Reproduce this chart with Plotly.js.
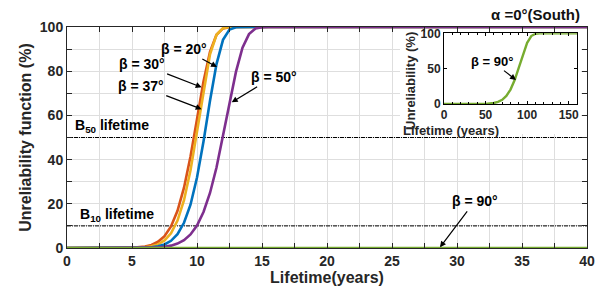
<!DOCTYPE html>
<html>
<head>
<meta charset="utf-8">
<script src="https://cdn.plot.ly/plotly-3.0.1.min.js"></script>
<style>html,body{margin:0;padding:0;background:#fff;}#chart{width:602px;height:290px;}</style>
</head>
<body>
<div id="chart"></div>
<script>
// ---- data ----
var lifetimeYears = [0,4,5,6,6.5,7,7.5,8,8.5,9,9.5,10,10.5,11,11.5,12,12.5,13,13.5,14,14.5,15,15.5,16,40];
var beta37 = [0,0.01,0.11,0.65,1.39,2.81,5.38,9.76,16.8,27.3,41.4,58.3,75.3,88.8,96.5,99.35,99.94,100,100,100,100,100,100,100,100];
var beta30 = [0,0,0.05,0.32,0.75,1.64,3.40,6.67,12.4,21.6,35.2,52.9,71.9,87.6,96.5,99.5,99.97,100,100,100,100,100,100,100,100];
var beta20 = [0,0,0.02,0.14,0.34,0.76,1.61,3.25,6.23,11.4,19.6,31.9,48.2,66.6,83.2,94.2,98.85,99.9,100,100,100,100,100,100,100];
var beta50 = [0,0,0.01,0.06,0.13,0.27,0.55,1.07,1.99,3.55,6.13,10.2,16.3,24.9,36.4,50.4,65.6,79.8,90.6,96.8,99.3,99.9,100,100,100];
var beta90Years = [0,40];
var beta90 = [0,0];
var insetYears = [0,40,50,60,65,70,75,80,85,90,95,100,105,110,115,120,160];
var insetBeta90 = [0,0.03,0.23,1.37,2.97,6.0,11.4,20.4,33.8,51.3,70.4,86.6,96.1,99.4,99.96,100,100];
var lifetimeLevels = [50,10];           // B50, B10
var levelNames = ['B<sub>50</sub> lifetime','B<sub>10</sub> lifetime'];
var betaNames = ['β = 37°','β = 30°','β = 20°','β = 50°','β = 90°'];
var xTickVals = [0,5,10,15,20,25,30,35,40];
var yTickVals = [0,20,40,60,80,100];
var insetXTicks = [0,50,100,150];
var insetYTicks = [0,50,100];

var colors = ['#D95319','#EDB120','#0072BD','#7E2F8E','#77AC30'];
var FONT = 'Liberation Sans, Arial, Helvetica, sans-serif';
var TXT = '#262626';

var traces = [];
lifetimeLevels.forEach(function(v){
  traces.push({x:[0,40], y:[v,v], mode:'lines', line:{color:'#000', width:1, dash:'4px,1px,1px,1px'}, showlegend:false, hoverinfo:'skip', cliponaxis:false});
});
[beta37, beta30, beta20, beta50].forEach(function(arr, i){
  traces.push({x:lifetimeYears, y:arr, mode:'lines', name:betaNames[i], line:{color:colors[i], width:2.6}, showlegend:false, cliponaxis:false});
});
traces.push({x:beta90Years, y:beta90, mode:'lines', name:betaNames[4], line:{color:colors[4], width:2.6}, showlegend:false, cliponaxis:false});
// white backing subplot for inset
traces.push({x:[], y:[], xaxis:'x2', yaxis:'y2', mode:'lines', showlegend:false, hoverinfo:'skip'});
// inset
traces.push({x:insetYears, y:insetBeta90, xaxis:'x3', yaxis:'y3', mode:'lines', name:betaNames[4], line:{color:colors[4], width:2.4}, showlegend:false, cliponaxis:false});

function tf(sz, col){ return {family:FONT, size:sz, color:col||TXT, weight:'bold'}; }

function label(xr, yr, x, y, ax, ay, txt, sz){
  return {xref:xr, yref:yr, x:x, y:y, ax:ax, ay:ay, text:txt, showarrow:true, arrowhead:2, arrowsize:1, arrowwidth:1.2,
          arrowcolor:'#000', standoff:0, startstandoff:1, font:tf(sz,'#000')};
}
var annotations = [];
annotations.push(label('x','y',11.54,81.9,-33,-18,betaNames[2],14));
annotations.push(label('x','y',10.36,72.7,-60,-23.3,betaNames[1],14));
annotations.push(label('x','y',10.36,62.8,-60.9,-23.3,betaNames[0],14));
annotations.push(label('x','y',12.67,65.9,41.8,-25.6,betaNames[3],14));
annotations.push(label('x','y',28.69,0.3,35,-46.3,betaNames[4],14));
annotations.push(label('x3','y3',86.6,33.9,-24.3,-19,betaNames[4],13));
annotations.push({xref:'x', yref:'y', x:0.48, y:55.2, xanchor:'left', text:levelNames[0], showarrow:false, font:tf(14,'#000')});
annotations.push({xref:'x', yref:'y', x:0.87, y:14.8, xanchor:'left', text:levelNames[1], showarrow:false, font:tf(14,'#000')});
annotations.push({xref:'paper', yref:'paper', x:(501-67)/520, y:(248-130)/221, text:'Lifetime (years)', showarrow:false, font:tf(13), yanchor:'middle'});
annotations.push({xref:'paper', yref:'paper', x:(410-67)/520, y:(248-81)/221, text:'Unreliability (%)', textangle:-90, showarrow:false, font:tf(13), xanchor:'center', yanchor:'middle'});

var layout = {
  width:602, height:290,
  margin:{l:67, r:15, t:27, b:42},
  paper_bgcolor:'#fff', plot_bgcolor:'#fff',
  showlegend:false, hovermode:false,
  font:{family:FONT, color:TXT},
  title:{text:'α =0°(South)', xref:'container', yref:'container', x:580/602, xanchor:'right', y:1-15/290, yanchor:'middle', font:tf(15,'#111')},
  xaxis:{domain:[0,1], anchor:'y', range:[0,40], tickvals:xTickVals, ticks:'inside', ticklen:5, tickwidth:1, tickcolor:TXT,
    showline:true, linecolor:TXT, linewidth:1, mirror:'allticks', showgrid:true, gridcolor:'#dedede', gridwidth:1, zeroline:false,
    tickfont:tf(14), minor:{dtick:2.5, ticks:'inside', ticklen:5, tickcolor:TXT, showgrid:true, gridcolor:'#dedede'},
    title:{text:'Lifetime(years)', font:tf(16), standoff:2}},
  yaxis:{domain:[0,1], anchor:'x', range:[0,100], tickvals:yTickVals, ticks:'inside', ticklen:5, tickwidth:1, tickcolor:TXT,
    showline:true, linecolor:TXT, linewidth:1, mirror:'allticks', showgrid:true, gridcolor:'#dedede', gridwidth:1, zeroline:false,
    tickfont:tf(14), minor:{dtick:10, ticks:'inside', ticklen:5, tickcolor:TXT, showgrid:true, gridcolor:'#dedede'},
    title:{text:'Unreliability function (%)', font:tf(16), standoff:4}},
  xaxis2:{domain:[(400-67)/520,(581-67)/520], anchor:'y2', range:[0,1], visible:false, fixedrange:true},
  yaxis2:{domain:[(248-134)/221,(248-33)/221], anchor:'x2', range:[0,1], visible:false, fixedrange:true},
  xaxis3:{domain:[(444-67)/520,(577-67)/520], anchor:'y3', range:[0,160], tickvals:insetXTicks, ticks:'inside', ticklen:3, tickcolor:'#000',
    showline:true, linecolor:'#000', linewidth:1, mirror:'allticks', showgrid:false, zeroline:false, tickfont:tf(12),
    minor:{dtick:10, ticks:'inside', ticklen:2, tickcolor:'#000'}},
  yaxis3:{domain:[(248-104)/221,(248-33.3)/221], anchor:'x3', range:[0,100], tickvals:insetYTicks, ticks:'inside', ticklen:3, tickcolor:'#000',
    showline:true, linecolor:'#000', linewidth:1, mirror:'allticks', showgrid:false, zeroline:false, tickfont:tf(12)},
  shapes:[{type:'rect', xref:'x2', yref:'y2', x0:0, x1:1, y0:0, y1:1, fillcolor:'#fff', line:{width:0}, layer:'below'}],
  annotations:annotations
};

Plotly.newPlot('chart', traces, layout, {staticPlot:true, displayModeBar:false});
</script>
</body>
</html>
